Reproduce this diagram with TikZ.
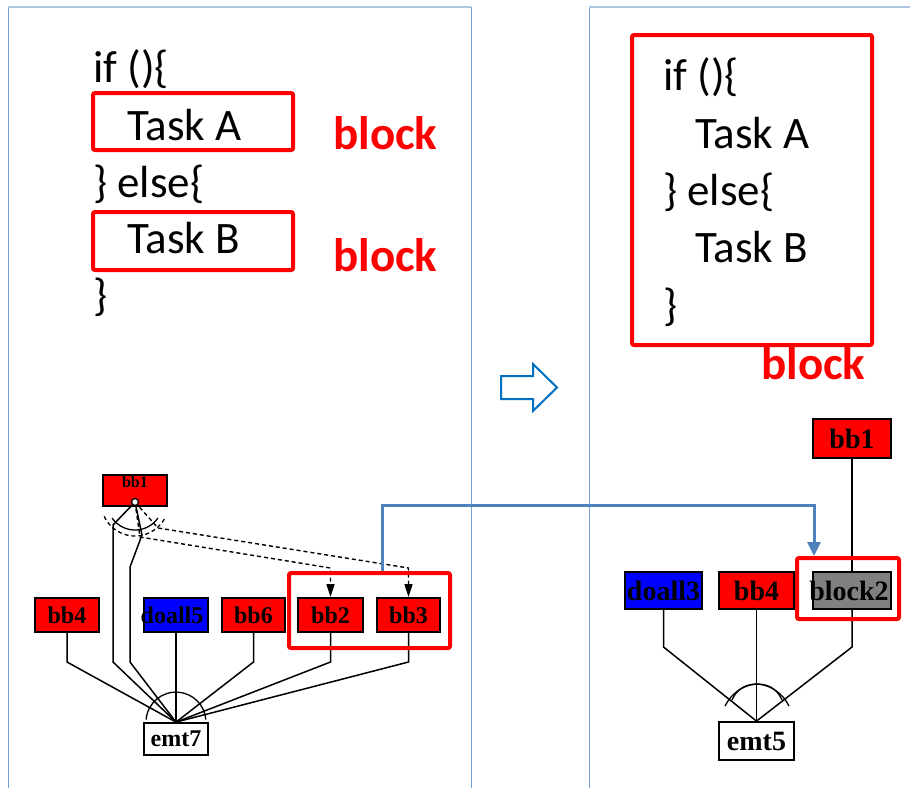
\documentclass[tikz,border=0pt]{standalone}
\usepackage{fontspec}
\setmainfont{Carlito}
\newfontfamily\gfont{Liberation Serif}
\usetikzlibrary{arrows.meta,calc}
\definecolor{panelblue}{RGB}{120,160,215}
\definecolor{paneltop}{RGB}{170,196,226}
\definecolor{connblue}{RGB}{79,129,189}
\definecolor{arrowblue}{RGB}{0,112,192}
\definecolor{grayfill}{RGB}{128,128,128}
\begin{document}
\begin{tikzpicture}[x=1pt,y=-1pt,
  code/.style={anchor=base west,inner sep=0,font=\fontsize{45}{54}\selectfont},
  blocklbl/.style={anchor=base west,inner sep=0,text=red,font=\fontsize{47}{56}\selectfont\bfseries},
  redframe/.style={draw=red,line width=4pt,rounded corners=2pt,inner sep=0},
  gbox/.style={draw=black,line width=1.8pt,inner sep=0},
  lgraph/.style={gbox,minimum height=34pt,font=\gfont\bfseries\fontsize{24}{26}\selectfont},
  rgraph/.style={gbox,minimum height=37pt,font=\gfont\bfseries\fontsize{28}{30}\selectfont},
  edge/.style={draw=black,line width=1.5pt},
  dedge/.style={draw=black,line width=1.4pt,dash pattern=on 4pt off 3pt,-{Triangle[length=13pt,width=8pt]}}
]
\useasboundingbox (0,0) rectangle (910,788);
% panels
\draw[panelblue,line width=1pt] (8,788) -- (8,7);
\draw[panelblue,line width=1pt] (471,7) -- (471,788);
\draw[paneltop,line width=1.2pt] (8,7) -- (471,7);
\draw[panelblue,line width=1pt] (589,788) -- (589,7);
\draw[paneltop,line width=1.2pt] (589,7) -- (910,7);

% left code
\node[code] (l1) at (93,82) {if ()\{};
\node[redframe,minimum width=200pt,minimum height=57pt] (boxA) at (193,121.5) {};
\node[code] (l2) at (127,140) {Task A};
\node[code] (l3) at (93,197) {\} else\{};
\node[redframe,minimum width=200pt,minimum height=58pt] (boxB) at (193,241) {};
\node[code] (l4) at (127,253) {Task B};
\node[code] (l5) at (93,310) {\}};
\node[blocklbl] (blkA) at (333,149) {block};
\node[blocklbl] (blkB) at (333,271) {block};

% hollow arrow
\draw[arrowblue,line width=2pt,fill=white,line join=miter]
  (501,376) -- (533,376) -- (533,364) -- (557,387.5) -- (533,411) -- (533,399) -- (501,399) -- cycle;

% right code
\node[redframe,minimum width=240pt,minimum height=310pt] (boxR) at (752,190) {};
\node[code] (r1) at (663,90) {if ()\{};
\node[code] (r2) at (695,148) {Task A};
\node[code] (r3) at (663,205) {\} else\{};
\node[code] (r4) at (695,262) {Task B};
\node[code] (r5) at (663,320) {\}};
\node[blocklbl] (blkR) at (761,379) {block};

% left graph nodes
\node[gbox,fill=red,minimum width=64pt,minimum height=31pt] (bb1L) at (135,490.5) {};
\node[anchor=north,inner sep=0,font=\gfont\bfseries\fontsize{16}{18}\selectfont] (bb1Lt) at ([yshift=-2pt]bb1L.north) {bb1};
\node[lgraph,fill=red,minimum width=64pt] (bb4L) at (67,615) {\makebox[0pt]{bb4}};
\node[lgraph,fill=blue,minimum width=64pt] (doall5L) at (176,615) {\makebox[0pt]{\hspace*{-8pt}doall5}};
\node[lgraph,fill=red,minimum width=63pt] (bb6L) at (253.5,615) {\makebox[0pt]{bb6}};
\node[lgraph,fill=red,minimum width=65pt] (bb2L) at (330.5,615) {\makebox[0pt]{bb2}};
\node[lgraph,fill=red,minimum width=63pt] (bb3L) at (408.5,615) {\makebox[0pt]{bb3}};
\node[lgraph,fill=white,minimum width=64pt,minimum height=32pt] (emt7L) at (176,739) {\makebox[0pt]{emt7}};

% left graph edges
\draw[edge] (bb4L.south) -- (67,662) -- (emt7L.north);
\draw[edge] (doall5L.south) -- (emt7L.north);
\draw[edge] (bb6L.south) -- (253.5,662) -- (emt7L.north);
\draw[edge] (bb2L.south) -- (330.5,662) -- (emt7L.north);
\draw[edge] (bb3L.south) -- (408.5,662) -- (emt7L.north);
\coordinate (bb1src) at (135,502);
\draw[edge] (bb1src) -- (113,525) -- (113,662) -- (emt7L.north);
\draw[edge] (bb1src) -- (142,535) -- (130,567) -- (130,662) -- (emt7L.north);
\draw[dedge] (bb1src) -- (140,537) -- (330.5,568) -- (bb2L.north);
\draw[dedge] (bb1src) -- (158,528) -- (408.5,568) -- (bb3L.north);
\node[circle,draw=black,fill=white,line width=1.3pt,inner sep=0,minimum size=7pt] (bb1c) at (bb1src) {};
\draw[line width=1.3pt] ([shift={(215:28pt)}]bb1c.center) arc[start angle=215,end angle=325,radius=28pt];
\draw[line width=1.3pt,dash pattern=on 4pt off 3pt] ([shift={(205:34pt)}]bb1c.center) arc[start angle=205,end angle=330,radius=34pt];
\draw[line width=1.3pt] ([shift={(175:30pt)}]emt7L.north) arc[start angle=175,end angle=5,radius=30pt];

% right graph nodes
\node[rgraph,fill=red,minimum width=78pt,minimum height=39pt] (bb1R) at (852,438.5) {\makebox[0pt]{bb1}};
\node[rgraph,fill=blue,minimum width=77pt] (doall3R) at (663.5,590.5) {\makebox[0pt]{doall3}};
\node[rgraph,fill=red,minimum width=75pt] (bb4R) at (756.5,590.5) {\makebox[0pt]{bb4}};
\node[rgraph,fill=grayfill,minimum width=78pt] (block2R) at (852,590.5) {\makebox[0pt]{\hspace*{-6pt}block2}};
\node[rgraph,fill=white,minimum width=75pt,minimum height=38pt] (emt5R) at (756.5,741) {\makebox[0pt]{emt5}};

% right graph edges
\draw[edge] (bb1R.south) -- (block2R.north);
\draw[edge] (doall3R.south) -- (663.5,647) -- (emt5R.north);
\draw[edge] (bb4R.south) -- (emt5R.north);
\draw[edge] (block2R.south) -- (852,647) -- (emt5R.north);
\draw[line width=1.3pt] (725,706) .. controls (738,680) and (772,676) .. (782,700);
\draw[line width=1.3pt] (789,706) .. controls (776,680) and (742,676) .. (732,700);

% red group frames
\node[redframe,minimum width=161pt,minimum height=75pt] (grpL) at (369.5,610.5) {};
\node[redframe,minimum width=102pt,minimum height=61pt] (grpR) at (848,588.5) {};

% blue connector
\draw[connblue,line width=3pt,-{Triangle[length=14pt,width=13pt]}]
  ([xshift=12.5pt]grpL.north) -- ++(0,-66) -| ([xshift=-34pt]grpR.north);
\end{tikzpicture}
\end{document}
